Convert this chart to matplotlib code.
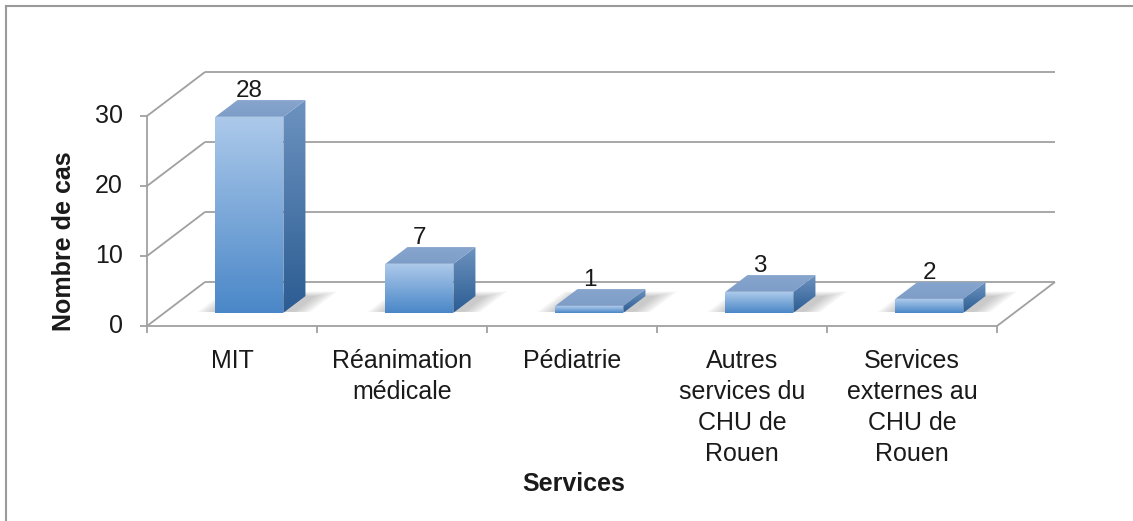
import numpy as np
import matplotlib
matplotlib.use('Agg')
import matplotlib.pyplot as plt
from matplotlib.patches import Polygon
from matplotlib.colors import LinearSegmentedColormap
from matplotlib.lines import Line2D

# Données
categories = ['MIT', 'Réanimation\nmédicale', 'Pédiatrie',
              'Autres\nservices du\nCHU de\nRouen',
              'Services\nexternes au\nCHU de\nRouen']
values = [28, 7, 1, 3, 2]
yticks = [0, 10, 20, 30]

plt.rcParams['font.family'] = ['Liberation Sans', 'DejaVu Sans']

W, H = 1133, 521
fig = plt.figure(figsize=(W / 100, H / 100), dpi=100)
ax = fig.add_axes([0, 0, 1, 1])

# échelle : 1 catégorie = 170 px, 1 cas = 7 px ; origine du plan avant
x0_px, y0_px = 147, 326
ux, uy = 170.0, 7.0
DX, DY = 58 / ux, 44 / uy   # décalage de profondeur (mur du fond)


def proj(x, v, d):
    # projection "3D" simple : d = profondeur (0 avant, 1 fond)
    return x + d * DX, v + d * DY


n = len(values)
ymax = yticks[-1]
txt_col = '#1a1a1a'
grid_kw = dict(color='#a0a0a0', lw=1.3, zorder=1, solid_capstyle='butt')

# Murs et grille
for t in yticks:
    ax.plot(*zip(proj(0, t, 1), proj(n, t, 1)), **grid_kw)
    ax.plot(*zip(proj(0, t, 0), proj(0, t, 1)), **grid_kw)
    ax.plot([-7 / ux, 0], [t, t], **grid_kw)
    ax.text(-24 / ux, t, str(t), ha='right', va='center', fontsize=18, color=txt_col)
ax.plot([0, 0], [0, ymax], **grid_kw)
ax.plot([0, n], [0, 0], **grid_kw)
ax.plot(*zip(proj(n, 0, 0), proj(n, 0, 1)), **grid_kw)
for i in range(n + 1):
    ax.plot([i, i], [0, -1], **grid_kw)

# Barres
bw = 0.2
d0, d1 = 0.3, 0.68
cm_front = LinearSegmentedColormap.from_list('front', ['#4a87c8', '#acc9ea'])
cm_side = LinearSegmentedColormap.from_list('side', ['#2b5c92', '#6d93c0'])
cm_top = LinearSegmentedColormap.from_list('top', ['#7d9dc8', '#87a5cd'])
grad = np.linspace(0, 1, 256).reshape(-1, 1)


def face(poly, cmap, z):
    patch = Polygon(poly, closed=True, fc='none', ec='none')
    ax.add_patch(patch)
    xs, ys = zip(*poly)
    im = ax.imshow(grad, cmap=cmap, origin='lower', aspect='auto',
                   extent=[min(xs), max(xs), min(ys), max(ys)],
                   zorder=z, interpolation='bilinear')
    im.set_clip_path(patch)


for i, v in enumerate(values):
    xl, xr = i + 0.5 - bw, i + 0.5 + bw
    # ombre portée (floue) sur le sol, derrière la barre
    for k in range(6):
        e = 0.018 * k
        sh = [proj(xl - 0.02 - e, 0, d0 + 0.02), proj(xr + 0.06 + e, 0, d0 + 0.02),
              proj(xr + 0.06 + e, 0, d1 + 0.02 * k), proj(xl - 0.02 - e, 0, d1 + 0.02 * k)]
        ax.add_patch(Polygon(sh, closed=True, fc='#707070', ec='none', alpha=0.07, zorder=2))
    front = [proj(xl, 0, d0), proj(xr, 0, d0), proj(xr, v, d0), proj(xl, v, d0)]
    side = [proj(xr, 0, d0), proj(xr, 0, d1), proj(xr, v, d1), proj(xr, v, d0)]
    top = [proj(xl, v, d0), proj(xr, v, d0), proj(xr, v, d1), proj(xl, v, d1)]
    face(front, cm_front, 3)
    face(side, cm_side, 3)
    face(top, cm_top, 3)
    lx = proj(i + 0.5, v, d0)[0]
    ly = proj(i + 0.5, v, d1)[1] + 0.4
    ax.text(lx, ly, str(v), ha='center', va='baseline', fontsize=17.5, color=txt_col, zorder=5)

# Étiquettes des catégories
for i, c in enumerate(categories):
    ax.text(i + 0.5, -3.3, c, ha='center', va='top', fontsize=18,
            linespacing=1.36, color=txt_col)

ax.text((574 - x0_px) / ux, (y0_px - 484) / uy, 'Services', ha='center', va='center',
        fontsize=18, fontweight='bold', color=txt_col)
ax.text((64 - x0_px) / ux, (y0_px - 241) / uy, 'Nombre de cas', ha='center', va='center',
        rotation=90, fontsize=18, fontweight='bold', color=txt_col)

ax.set_xlim(-x0_px / ux, (W - x0_px) / ux)
ax.set_ylim(-(H - y0_px) / uy, y0_px / uy)
ax.axis('off')

# cadre du graphique
fig.add_artist(Line2D([6 / W, 6 / W], [0, 1 - 6 / H], transform=fig.transFigure,
                      color='#9a9a9a', lw=1.5))
fig.add_artist(Line2D([6 / W, 1], [1 - 6 / H, 1 - 6 / H], transform=fig.transFigure,
                      color='#9a9a9a', lw=1.5))

fig.savefig('out.png', dpi=100)
